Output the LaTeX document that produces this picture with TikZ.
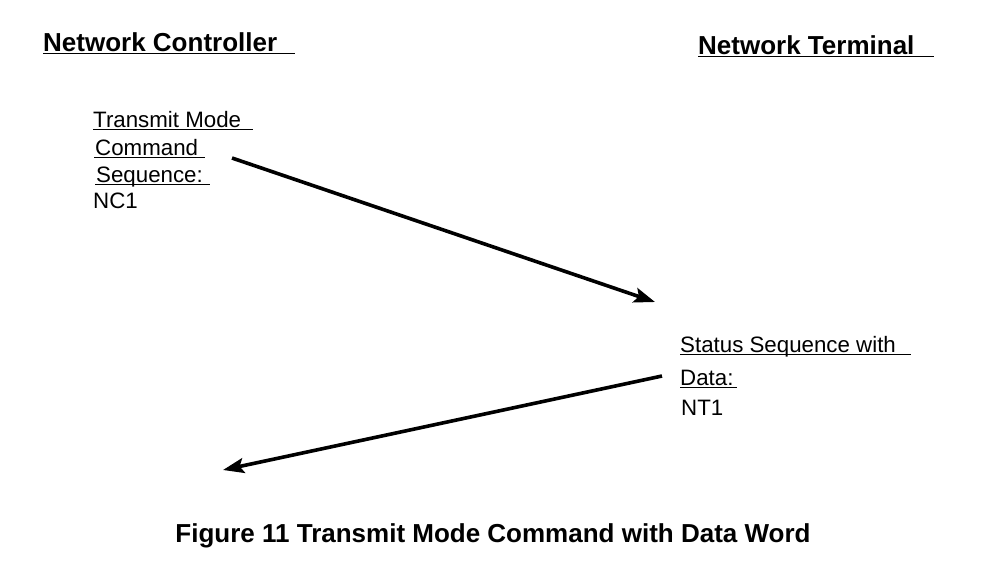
\documentclass[tikz,border=0pt]{standalone}
\usepackage{fontspec}
\setmainfont{Liberation Sans}
\usetikzlibrary{arrows.meta,calc}

\begin{document}
\begin{tikzpicture}[x=1pt, y=-1pt, >={Stealth[length=21pt,width=15pt,inset=4pt]},
  head/.style={anchor=base west, inner sep=0pt, font=\fontsize{26}{30}\selectfont\bfseries},
  lbl/.style={anchor=base west, inner sep=0pt, font=\fontsize{22.3}{26}\selectfont},
  uline/.style={line width=1.5pt},
  msg/.style={->, line width=3.6pt}]
  \useasboundingbox (0,0) rectangle (985,566);
  \node[head](nc) at (43,51){Network Controller};
  \node[head](nt) at (698,54){Network Terminal};
  \node[lbl](cmd1) at (93,127){Transmit Mode};
  \node[lbl](cmd2) at (95,155){Command};
  \node[lbl](cmd3) at (96,182){Sequence:};
  \node[lbl](cmd4) at (93,208){NC1};
  \node[lbl](sts1) at (680,352){Status Sequence with};
  \node[lbl](sts2) at (680,385){Data:};
  \node[lbl](sts3) at (681,415){NT1};
  \foreach \n/\x/\w in {nc/43/252,nt/698/236,cmd1/93/160,cmd2/94/111,cmd3/95/115,sts1/680/231,sts2/680/57}
    {\draw[uline] (\x,0 |- \n.base) ++(0,2.5) -- ++(\w,0);}
  \coordinate (ncout) at (232,158);
  \coordinate (ntin) at (655,302);
  \coordinate (ntout) at (662,376);
  \coordinate (ncin) at (223,470);
  \draw[msg](ncout)--(ntin);
  \draw[msg](ntout)--(ncin);
  \node[head, anchor=base](cap) at (493,542){Figure 11 Transmit Mode Command with Data Word};
\end{tikzpicture}
\end{document}
